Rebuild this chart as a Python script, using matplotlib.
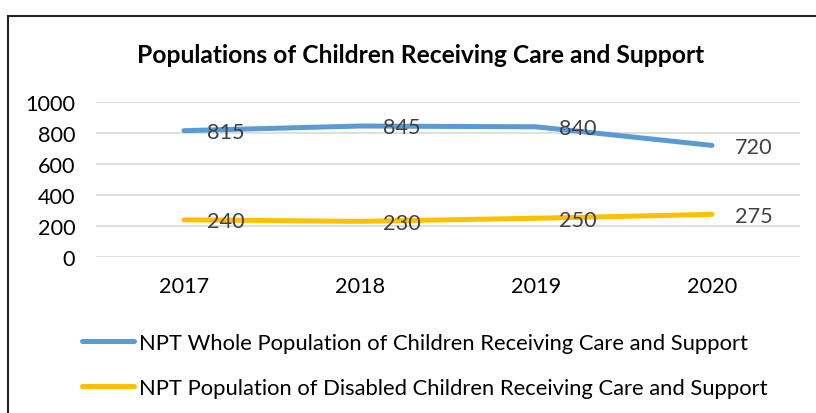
import matplotlib
matplotlib.use('Agg')
import matplotlib.pyplot as plt
from matplotlib.lines import Line2D

years = ['2017', '2018', '2019', '2020']
whole_pop = [815, 845, 840, 720]
disabled_pop = [240, 230, 250, 275]
whole_label = 'NPT Whole Population of Children Receiving Care and Support'
disabled_label = 'NPT Population of Disabled Children Receiving Care and Support'
title = 'Populations of Children Receiving Care and Support'

BLUE = '#5B9BD5'
GOLD = '#FFC000'

plt.rcParams['font.family'] = ['Lato', 'DejaVu Sans']

fig = plt.figure(figsize=(8.16, 4.14), dpi=100)
W, H = 816, 414
ax = fig.add_axes([96 / W, 1 - 258 / H, 704 / W, 155 / H])

x = list(range(len(years)))
ax.plot(x, whole_pop, color=BLUE, lw=3.6, solid_capstyle='round',
        label=whole_label)
ax.plot(x, disabled_pop, color=GOLD, lw=3.6, solid_capstyle='round',
        label=disabled_label)

for series in (whole_pop, disabled_pop):
    for xi, v in zip(x, series):
        ax.annotate(str(v), (xi, v), xytext=(16.5, -1),
                    textcoords='offset points', ha='left', va='center',
                    fontsize=15.6, color='#404040')

ax.set_xlim(-0.5, len(years) - 0.5)
ax.set_ylim(0, 1000)
ax.set_yticks(range(0, 1001, 200))
ax.set_xticks(x)
ax.set_xticklabels(years)
ax.grid(axis='y', color='#D9D9D9', lw=1.2)
ax.set_axisbelow(True)
for sp in ax.spines.values():
    sp.set_visible(False)
ax.tick_params(length=0, labelsize=15.6, colors='black')
ax.tick_params(axis='y', pad=15)
ax.tick_params(axis='x', pad=14)

fig.text(421 / W, 1 - 56 / H, title, ha='center', va='center',
         fontsize=17.7, fontweight='bold')

handles, labels = ax.get_legend_handles_labels()
fig.legend(handles, labels, loc='center left',
           bbox_to_anchor=(82 / W, 1 - 366.5 / H), frameon=False,
           fontsize=15.8, handlelength=2.35, handletextpad=0.27,
           labelspacing=1.15, borderaxespad=0, borderpad=0)

# chart border (only top and left visible in the crop)
fig.add_artist(Line2D([8 / W, 1.0], [1 - 17 / H, 1 - 17 / H],
                      transform=fig.transFigure, color='#222222', lw=1.5))
fig.add_artist(Line2D([8 / W, 8 / W], [0, 1 - 17 / H],
                      transform=fig.transFigure, color='#222222', lw=1.5))

fig.savefig('out.png', dpi=100)
